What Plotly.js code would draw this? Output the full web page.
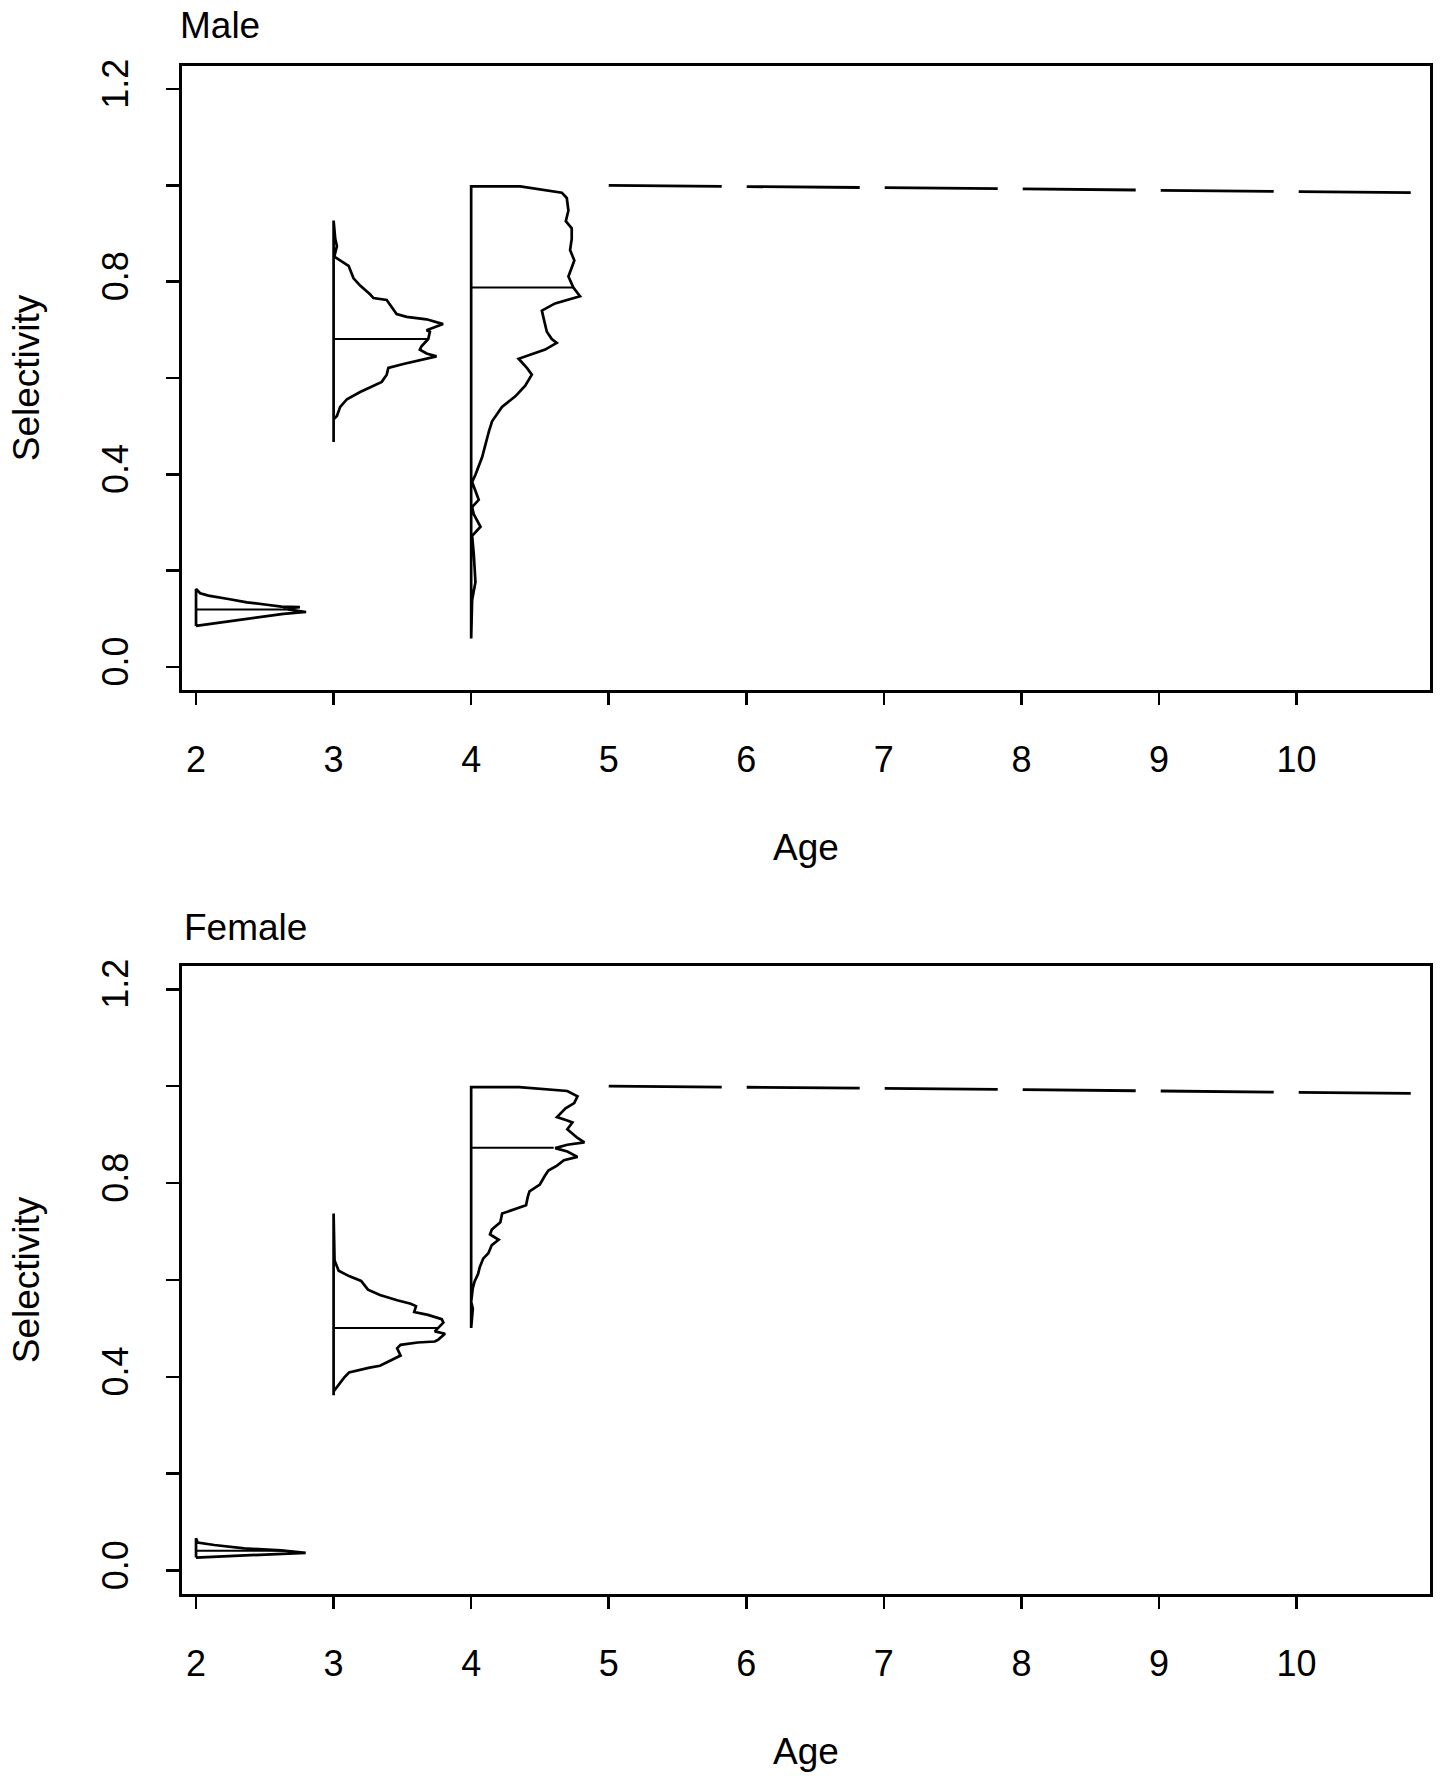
<!DOCTYPE html>
<html>
<head>
<meta charset="utf-8">
<script src="https://cdn.plot.ly/plotly-3.0.1.min.js"></script>
<style>
  html, body { margin: 0; padding: 0; background: #ffffff; }
  #chart { width: 1442px; height: 1776px; }
</style>
</head>
<body>
<div id="chart"></div>
<script>
// ---------------- data ----------------
const ages = [2, 3, 4];
const ageTicks = [2, 3, 4, 5, 6, 7, 8, 9, 10];
const ageTickText = ['2', '3', '4', '5', '6', '7', '8', '9', '10'];
const selTicks = [0, 0.2, 0.4, 0.6, 0.8, 1.0, 1.2];
const selTickText = ['0.0', '', '0.4', '', '0.8', '', '1.2'];

// Male: posterior profiles (selectivity, horizontal width in age units), top to bottom
const maleAge2Sel = [0.162, 0.153, 0.148, 0.141, 0.134, 0.129, 0.125, 0.124, 0.121, 0.119, 0.114, 0.110, 0.105, 0.095, 0.086, 0.085];
const maleAge2Wid = [0.0, 0.03, 0.09, 0.235, 0.37, 0.515, 0.62, 0.755, 0.635, 0.68, 0.80, 0.635, 0.515, 0.27, 0.03, 0.0];

const maleAge3Sel = [0.927, 0.889, 0.874, 0.852, 0.844, 0.833, 0.807, 0.792, 0.774, 0.766, 0.762, 0.733, 0.727, 0.722, 0.712, 0.703, 0.699, 0.696, 0.681, 0.666, 0.659, 0.651, 0.645, 0.629, 0.621, 0.607, 0.592, 0.571, 0.556, 0.540, 0.521, 0.514, 0.467];
const maleAge3Wid = [0.0, 0.012, 0.024, 0.005, 0.048, 0.109, 0.145, 0.193, 0.265, 0.29, 0.386, 0.458, 0.531, 0.676, 0.796, 0.712, 0.676, 0.70, 0.688, 0.639, 0.627, 0.676, 0.748, 0.507, 0.398, 0.386, 0.35, 0.193, 0.097, 0.048, 0.024, 0.0, 0.0];

const maleAge4Sel = [0.998, 0.998, 0.985, 0.974, 0.948, 0.926, 0.911, 0.889, 0.866, 0.844, 0.829, 0.811, 0.788, 0.770, 0.755, 0.740, 0.725, 0.696, 0.681, 0.673, 0.659, 0.640, 0.621, 0.607, 0.584, 0.562, 0.540, 0.510, 0.488, 0.436, 0.399, 0.384, 0.347, 0.332, 0.317, 0.291, 0.272, 0.235, 0.176, 0.139, 0.059];
const maleAge4Wid = [0.0, 0.357, 0.659, 0.695, 0.707, 0.688, 0.731, 0.731, 0.719, 0.750, 0.731, 0.707, 0.743, 0.791, 0.610, 0.514, 0.526, 0.550, 0.586, 0.622, 0.538, 0.345, 0.405, 0.441, 0.393, 0.321, 0.224, 0.152, 0.128, 0.080, 0.031, 0.007, 0.055, 0.007, 0.019, 0.068, 0.007, 0.019, 0.031, 0.007, 0.0];

const maleMedianSel = [0.119, 0.681, 0.788];
const maleMedianWid = [0.65, 0.688, 0.743];

// Female
const femaleAge2Sel = [0.067, 0.058, 0.053, 0.046, 0.042, 0.037, 0.035, 0.032, 0.030, 0.028, 0.027];
const femaleAge2Wid = [0.0, 0.012, 0.133, 0.35, 0.616, 0.797, 0.616, 0.35, 0.133, 0.012, 0.0];

const femaleAge3Sel = [0.737, 0.640, 0.619, 0.608, 0.598, 0.580, 0.569, 0.558, 0.551, 0.546, 0.534, 0.528, 0.519, 0.512, 0.501, 0.494, 0.489, 0.477, 0.473, 0.471, 0.466, 0.459, 0.444, 0.423, 0.419, 0.409, 0.398, 0.380, 0.370, 0.362];
const femaleAge3Wid = [0.0, 0.007, 0.037, 0.112, 0.2, 0.25, 0.337, 0.462, 0.561, 0.599, 0.586, 0.686, 0.786, 0.798, 0.761, 0.736, 0.81, 0.761, 0.736, 0.611, 0.487, 0.462, 0.487, 0.337, 0.262, 0.112, 0.075, 0.025, 0.0, 0.0];

const femaleAge4Sel = [0.998, 0.998, 0.990, 0.979, 0.965, 0.954, 0.936, 0.929, 0.925, 0.911, 0.900, 0.893, 0.884, 0.879, 0.872, 0.865, 0.854, 0.847, 0.836, 0.826, 0.815, 0.797, 0.783, 0.772, 0.754, 0.744, 0.737, 0.719, 0.704, 0.694, 0.683, 0.672, 0.655, 0.644, 0.626, 0.612, 0.597, 0.583, 0.555, 0.541, 0.512, 0.501];
const femaleAge4Wid = [0.0, 0.349, 0.699, 0.773, 0.749, 0.686, 0.624, 0.699, 0.736, 0.699, 0.749, 0.773, 0.823, 0.699, 0.611, 0.699, 0.773, 0.674, 0.624, 0.561, 0.536, 0.499, 0.424, 0.412, 0.399, 0.299, 0.225, 0.212, 0.150, 0.137, 0.2, 0.150, 0.125, 0.087, 0.062, 0.05, 0.025, 0.012, 0.0, 0.012, 0.0, 0.0];

const femaleMedianSel = [0.041, 0.501, 0.873];
const femaleMedianWid = [0.65, 0.761, 0.60];

// Fixed selectivity for ages 5+ (dashed)
const dashAges = [5, 6, 7, 8, 9, 10, 10.83];
const maleDashSel = [1.0, 0.998, 0.996, 0.993, 0.990, 0.988, 0.985];
const femaleDashSel = [1.0, 0.998, 0.996, 0.993, 0.990, 0.988, 0.985];

// ---------------- build traces ----------------
const FONT = 'Liberation Sans, Arial, Helvetica, sans-serif';
const traces = [];

function addProfile(age, sel, wid, xa, ya) {
  const xs = [age].concat(wid.map(w => age + w));
  const ys = [sel[sel.length - 1]].concat(sel);
  traces.push({
    type: 'scatter', mode: 'lines', x: xs, y: ys, xaxis: xa, yaxis: ya,
    line: { color: '#000', width: 2.7 }, hoverinfo: 'skip', showlegend: false
  });
}
function addMedians(medSel, medWid, xa, ya) {
  medSel.forEach((s, i) => {
    traces.push({
      type: 'scatter', mode: 'lines', x: [ages[i], ages[i] + medWid[i]], y: [s, s],
      xaxis: xa, yaxis: ya, line: { color: '#000', width: 2.0 }, hoverinfo: 'skip', showlegend: false
    });
  });
}
function addDash(sel, xa, ya) {
  traces.push({
    type: 'scatter', mode: 'lines', x: dashAges, y: sel, xaxis: xa, yaxis: ya,
    line: { color: '#000', width: 2.8, dash: '113px,25px' }, hoverinfo: 'skip', showlegend: false
  });
}

addProfile(ages[0], maleAge2Sel, maleAge2Wid, 'x', 'y');
addProfile(ages[1], maleAge3Sel, maleAge3Wid, 'x', 'y');
addProfile(ages[2], maleAge4Sel, maleAge4Wid, 'x', 'y');
addMedians(maleMedianSel, maleMedianWid, 'x', 'y');
addDash(maleDashSel, 'x', 'y');

addProfile(ages[0], femaleAge2Sel, femaleAge2Wid, 'x2', 'y2');
addProfile(ages[1], femaleAge3Sel, femaleAge3Wid, 'x2', 'y2');
addProfile(ages[2], femaleAge4Sel, femaleAge4Wid, 'x2', 'y2');
addMedians(femaleMedianSel, femaleMedianWid, 'x2', 'y2');
addDash(femaleDashSel, 'x2', 'y2');

// ---------------- layout ----------------
function xAxis(anchor) {
  return {
    anchor: anchor, domain: [0, 1], range: [1.898, 10.97],
    tickmode: 'array', tickvals: ageTicks, ticktext: ageTickText,
    ticks: 'outside', ticklen: 12, tickwidth: 2.6, tickcolor: '#000',
    showline: true, linewidth: 2.8, linecolor: '#000', mirror: true,
    showgrid: false, zeroline: false,
    tickfont: { family: FONT, size: 36, color: '#000' },
    ticklabelstandoff: 24,
    title: { text: 'Age', font: { family: FONT, size: 37, color: '#000' }, standoff: 56 }
  };
}
function yAxis(anchor, domain) {
  return {
    anchor: anchor, domain: domain, range: [-0.048, 1.248],
    tickmode: 'array', tickvals: selTicks, ticktext: selTickText, tickangle: -90,
    ticks: 'outside', ticklen: 13, tickwidth: 2.6, tickcolor: '#000',
    showline: true, linewidth: 2.8, linecolor: '#000', mirror: true,
    showgrid: false, zeroline: false,
    tickfont: { family: FONT, size: 36, color: '#000' },
    ticklabelstandoff: 24,
    title: { text: 'Selectivity', font: { family: FONT, size: 37, color: '#000' }, standoff: 44 }
  };
}

const layout = {
  width: 1442, height: 1776,
  margin: { l: 182, r: 12, t: 0, b: 0, pad: 0 },
  paper_bgcolor: '#ffffff', plot_bgcolor: '#ffffff',
  showlegend: false,
  font: { family: FONT, color: '#000' },
  xaxis: xAxis('y'),
  yaxis: yAxis('x', [0.6115, 0.9628]),
  xaxis2: xAxis('y2'),
  yaxis2: yAxis('x2', [0.1025, 0.4561]),
  annotations: [
    { text: 'Male', xref: 'paper', yref: 'paper', x: -0.003, y: 0.9855, xanchor: 'left', yanchor: 'middle',
      showarrow: false, font: { family: FONT, size: 37, color: '#000' } },
    { text: 'Female', xref: 'paper', yref: 'paper', x: 0.0, y: 0.478, xanchor: 'left', yanchor: 'middle',
      showarrow: false, font: { family: FONT, size: 37, color: '#000' } }
  ]
};

Plotly.newPlot('chart', traces, layout, { staticPlot: true, displayModeBar: false });
</script>
</body>
</html>
